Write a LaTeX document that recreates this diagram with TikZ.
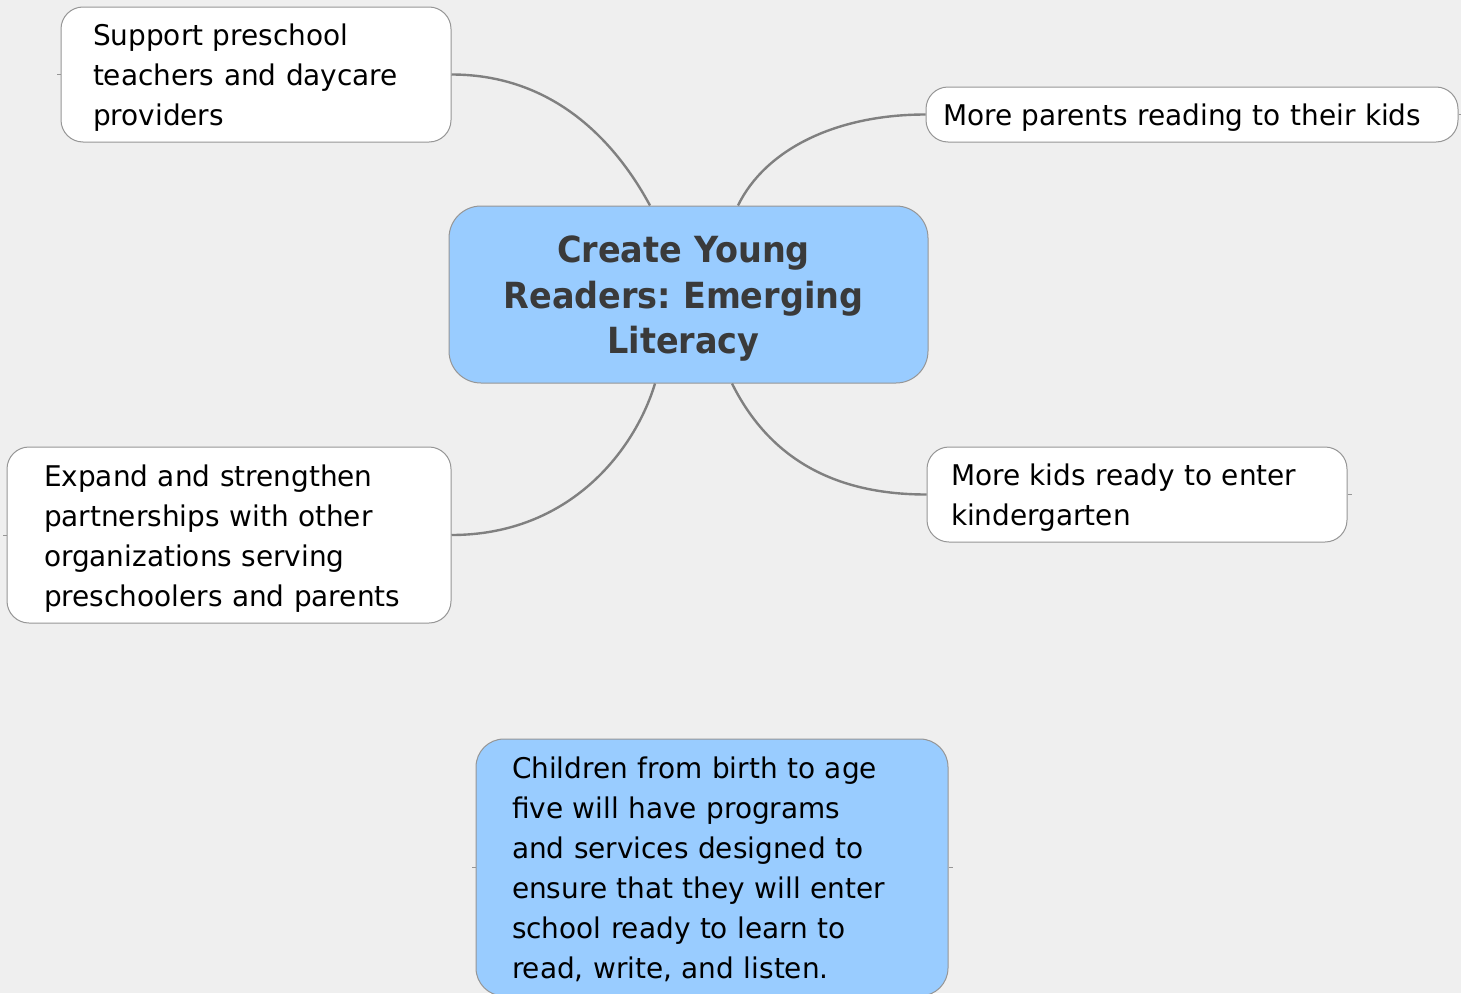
\documentclass[tikz,border=0pt]{standalone}
\usepackage{fontspec}
\setmainfont{DejaVu Sans}[FakeStretch=0.98]
\newfontfamily\titlefont{DejaVu Sans Bold}[FakeStretch=0.93]
\usetikzlibrary{calc}
\frenchspacing
\definecolor{bgc}{RGB}{239,239,239}
\definecolor{nodeblue}{RGB}{153,204,255}
\definecolor{edgec}{RGB}{128,128,128}
\definecolor{borderc}{RGB}{150,150,150}
\definecolor{titlec}{RGB}{58,58,58}
\newcommand\topstr{\rule{0pt}{30pt}}
\newcommand\botstr{\rule[-8pt]{0pt}{8pt}}
\newcommand\ttopstr{\rule{0pt}{38pt}}
\newcommand\tbotstr{\rule[-11pt]{0pt}{11pt}}
\newcommand\tk{\kern10pt}
\tikzset{
  box/.style={draw=borderc, line width=1pt, fill=white, rounded corners=22pt,
    inner ysep=0pt, align=left, font=\fontsize{28.5}{40}\selectfont, text=black},
  bluebox/.style={box, fill=nodeblue, rounded corners=28pt},
  titlebox/.style={draw=borderc, line width=1pt, fill=nodeblue, rounded corners=32pt,
    inner ysep=0pt, align=center, font=\titlefont\fontsize{36}{45.5}\selectfont, text=titlec},
  link/.style={draw=edgec, line width=2.4pt},
  stub/.style={draw=borderc, line width=1pt},
}
\begin{document}
\begin{tikzpicture}[x=1pt,y=-1pt]
\useasboundingbox (0,0) rectangle (1461,993);
\clip (0,0) rectangle (1461,993);
\fill[bgc] (0,0) rectangle (1461,993);

% central topic
\node[titlebox, text width=439pt, inner xsep=20pt, minimum height=177pt] (M) at (688.5,294.5)
  {\ttopstr Create Young\tk\\Readers: Emerging\tk\\Literacy\tk\tbotstr};

% branches
\node[box, text width=326pt, inner xsep=32pt, minimum height=135pt] (A) at (256,74.5)
  {\topstr Support preschool\\teachers and daycare\\providers\botstr};
\node[box, text width=498pt, inner xsep=17pt, minimum height=55pt] (B) at (1192,114.5)
  {\topstr More parents reading to their kids\botstr};
\node[box, text width=370pt, inner xsep=37pt, minimum height=176pt] (C) at (229,535)
  {\topstr Expand and strengthen\\partnerships with other\\organizations serving\\preschoolers and parents\botstr};
\node[box, text width=372pt, inner xsep=24pt, minimum height=95pt] (D) at (1137,494.5)
  {\topstr More kids ready to enter\\kindergarten\botstr};

% floating topic
\node[bluebox, text width=400pt, inner xsep=36pt, minimum height=257pt] (E) at (712,867.5)
  {\topstr Children from birth to age\\five will have programs\\and services designed to\\ensure that they will enter\\school ready to learn to\\read, write, and listen.\botstr};

% connectors
\draw[link] (A.east) .. controls (560,74.5) and (620,150) .. ($(M.north)+(-38.5,0)$);
\draw[link] (B.west) .. controls (835,114.5) and (765,150) .. ($(M.north)+(49.5,0)$);
\draw[link] (C.east) .. controls (570,535) and (635,450) .. ($(M.south)+(-33.5,0)$);
\draw[link] (D.west) .. controls (850,494.5) and (775,470) .. ($(M.south)+(43.5,0)$);

% stubs
\draw[stub] (A.west) -- +(-4,0);
\draw[stub] (B.east) -- +(4,0);
\draw[stub] (C.west) -- +(-4,0);
\draw[stub] (D.east) -- +(4,0);
\draw[stub] (E.west) -- +(-4,0);
\draw[stub] (E.east) -- +(4,0);
\end{tikzpicture}
\end{document}
